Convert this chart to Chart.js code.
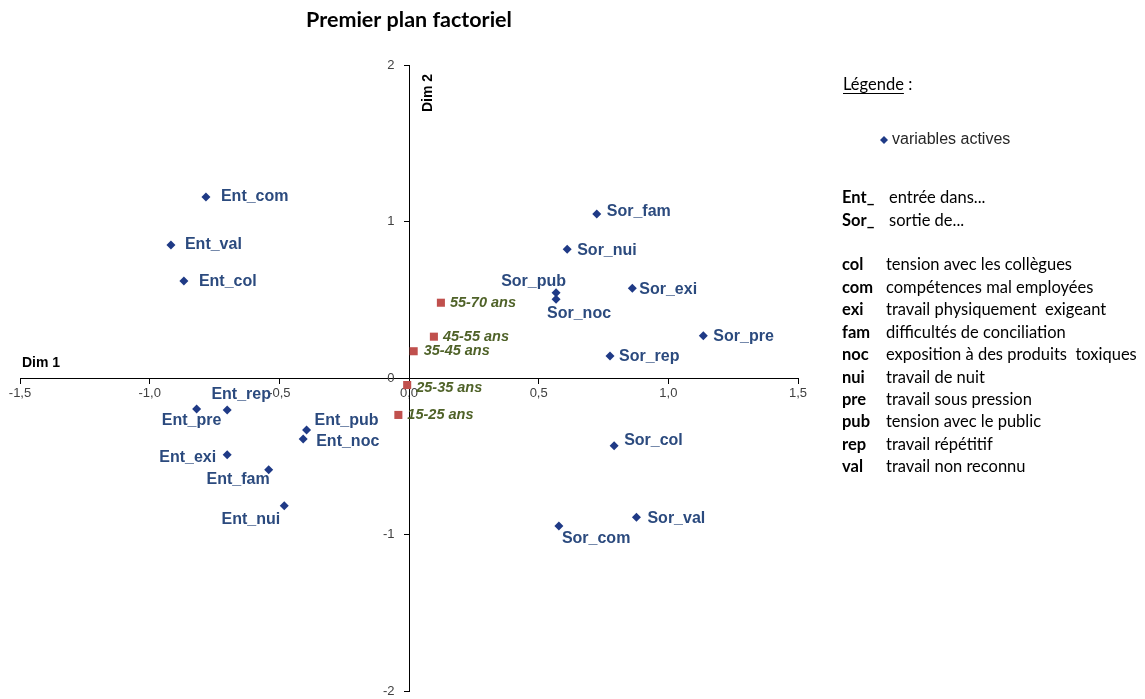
<!DOCTYPE html>
<html><head><meta charset="utf-8">
<script src="https://cdn.jsdelivr.net/npm/chart.js@4.4.1/dist/chart.umd.min.js"></script>
<style>html,body{margin:0;padding:0;background:#fff;overflow:hidden}#wrap{width:1145px;height:699px;position:relative}</style>
</head><body><div id="wrap"><canvas id="c"></canvas></div>
<script>
// ---- data ----
const variableNames = ['Ent_com','Ent_val','Ent_col','Ent_pre','Ent_rep','Ent_pub','Ent_noc','Ent_exi','Ent_fam','Ent_nui',
  'Sor_fam','Sor_nui','Sor_pub','Sor_noc','Sor_exi','Sor_pre','Sor_rep','Sor_col','Sor_val','Sor_com'];
const variableDim1 = [-0.783,-0.918,-0.868,-0.819,-0.701,-0.395,-0.408,-0.701,-0.541,-0.481,
  0.724,0.610,0.567,0.567,0.861,1.135,0.775,0.791,0.877,0.578];
const variableDim2 = [1.157,0.850,0.620,-0.198,-0.204,-0.332,-0.390,-0.490,-0.586,-0.816,
  1.048,0.822,0.545,0.503,0.573,0.270,0.141,-0.433,-0.890,-0.946];
const ageGroups = ['55-70 ans','45-55 ans','35-45 ans','25-35 ans','15-25 ans'];
const ageDim1 = [0.123,0.096,0.018,-0.007,-0.041];
const ageDim2 = [0.481,0.264,0.171,-0.045,-0.236];
const xTickLabels = ['-1,5','-1,0','-0,5','0,0','0,5','1,0','1,5'];
const yTickLabels = ['-2','-1','0','1','2'];
const prefixCodes = ['Ent_','Sor_'];
const prefixMeanings = ['entrée dans...','sortie de...'];
const themeCodes = ['col','com','exi','fam','noc','nui','pre','pub','rep','val'];
const themeMeanings = ['tension avec les collègues','compétences mal employées','travail physiquement  exigeant',
  'difficultés de conciliation','exposition à des produits  toxiques','travail de nuit','travail sous pression',
  'tension avec le public','travail répétitif','travail non reconnu'];

// ---- label placement (offset from marker, alignment) ----
const variableLabelPlacement = [
  [15,0,'left'],[14,0,'left'],[15,1,'left'],[-5,12,'center'],[14,-15,'center'],
  [8,-9,'left'],[13,3,'left'],[-11,3,'right'],[1,10,'right'],[-4,14,'right'],
  [10,-2,'left'],[10,1,'left'],[10,-11,'right'],[23,14,'center'],[7,1,'left'],
  [10,1,'left'],[9,1,'left'],[10,-5,'left'],[11,1,'left'],[3,13,'left']
];
const ageLabelPlacement = [[9,0,'left'],[9,0,'left'],[10,0,'left'],[9,3,'left'],[9,0,'left']];

const NAVY = '#1F3A86', LABEL_NAVY = '#2B4A7E', RED = '#C0504D', OLIVE = '#4F6228';

const pointLabels = {
  id: 'pointLabels',
  afterDatasetsDraw(chart) {
    const ctx = chart.ctx;
    ctx.save();
    ctx.textBaseline = 'middle';
    const m0 = chart.getDatasetMeta(0).data;
    ctx.font = 'bold 16px "Liberation Sans", Arial, sans-serif';
    ctx.fillStyle = LABEL_NAVY;
    m0.forEach((el, i) => {
      const p = variableLabelPlacement[i];
      ctx.textAlign = p[2];
      ctx.fillText(variableNames[i], el.x + p[0], el.y + p[1]);
    });
    const m1 = chart.getDatasetMeta(1).data;
    ctx.font = 'italic bold 14.5px "Liberation Sans", Arial, sans-serif';
    ctx.fillStyle = OLIVE;
    m1.forEach((el, i) => {
      const p = ageLabelPlacement[i];
      ctx.textAlign = p[2];
      ctx.fillText(ageGroups[i], el.x + p[0], el.y + p[1]);
    });
    // axis titles
    const xs = chart.scales.x, ys = chart.scales.y;
    ctx.fillStyle = '#000';
    ctx.font = 'bold 14px "Liberation Sans", Arial, sans-serif';
    ctx.textAlign = 'left';
    ctx.fillText('Dim 1', xs.left + 2, ys.getPixelForValue(0) - 15);
    ctx.save();
    ctx.translate(xs.getPixelForValue(0) + 19, ys.top + 28);
    ctx.rotate(-Math.PI / 2);
    ctx.textAlign = 'center';
    ctx.fillText('Dim 2', 0, 0);
    ctx.restore();
    ctx.restore();
  }
};

const sideLegend = {
  id: 'sideLegend',
  afterDraw(chart) {
    const ctx = chart.ctx;
    ctx.save();
    ctx.textBaseline = 'middle';
    ctx.textAlign = 'left';
    ctx.fillStyle = '#000';
    ctx.font = '16.5px Lato, "Open Sans", sans-serif';
    ctx.fillText('Légende', 843, 85);
    const w = ctx.measureText('Légende').width;
    ctx.fillText(' :', 843 + w, 85);
    ctx.fillRect(843, 93, w, 1);
    // marker
    ctx.fillStyle = NAVY;
    ctx.beginPath();
    ctx.moveTo(884, 136); ctx.lineTo(888, 140); ctx.lineTo(884, 144); ctx.lineTo(880, 140); ctx.closePath();
    ctx.fill();
    ctx.fillStyle = '#262626';
    ctx.font = '16px "Liberation Sans", Arial, sans-serif';
    ctx.fillText('variables actives', 892, 140);
    ctx.fillStyle = '#000';
    prefixCodes.forEach((c, i) => {
      const y = 198 + i * 22.6;
      ctx.font = 'bold 16.5px Lato, "Open Sans", sans-serif';
      ctx.fillText(c, 842, y);
      ctx.font = '16.5px Lato, "Open Sans", sans-serif';
      ctx.fillText(prefixMeanings[i], 889, y);
    });
    themeCodes.forEach((c, i) => {
      const y = 265 + i * 22.45;
      ctx.font = 'bold 16.5px Lato, "Open Sans", sans-serif';
      ctx.fillText(c, 842, y);
      ctx.font = '16.5px Lato, "Open Sans", sans-serif';
      ctx.fillText(themeMeanings[i], 886, y);
    });
    ctx.restore();
  }
};

function noSpace(s) {
  if (s.isHorizontal()) s.height = 0; else s.width = 0;
  s.paddingLeft = s.paddingRight = s.paddingTop = s.paddingBottom = 0;
}

new Chart(document.getElementById('c'), {
  type: 'scatter',
  data: {
    datasets: [
      {
        label: 'variables actives',
        data: variableDim1.map((x, i) => ({x, y: variableDim2[i]})),
        pointStyle: 'rectRot', pointRadius: 4.5, pointHoverRadius: 4.5,
        backgroundColor: NAVY, borderColor: NAVY, borderWidth: 0
      },
      {
        label: 'âge',
        data: ageDim1.map((x, i) => ({x, y: ageDim2[i]})),
        pointStyle: 'rect', pointRadius: 5.7, pointHoverRadius: 5.7,
        backgroundColor: RED, borderColor: RED, borderWidth: 0
      }
    ]
  },
  options: {
    responsive: true, maintainAspectRatio: false, animation: false,
    layout: { padding: { left: 20, top: 0, right: 347, bottom: 8 } },
    plugins: {
      legend: { display: false }, tooltip: { enabled: false },
      title: {
        display: true, fullSize: false, text: 'Premier plan factoriel', color: '#000',
        font: { family: 'Lato, "Open Sans", sans-serif', size: 21.5, weight: 'bold', lineHeight: 1.2 },
        padding: { top: 7, bottom: 32.2 }
      }
    },
    scales: {
      x: {
        type: 'linear', min: -1.5, max: 1.5, position: { y: 0 },
        afterFit: noSpace,
        afterBuildTicks: (s) => { s.ticks = xTickLabels.map((t, i) => ({ value: -1.5 + 0.5 * i })); },
        ticks: { callback: (v, i) => xTickLabels[i], color: '#404040', padding: 3, maxRotation: 0, autoSkip: false,
          font: { family: '"Liberation Sans", Arial, sans-serif', size: 13 } },
        grid: { display: true, drawOnChartArea: false, drawTicks: true, tickLength: 5, color: '#000', lineWidth: 1 },
        border: { display: true, color: '#000', width: 1 }
      },
      y: {
        type: 'linear', min: -2, max: 2, position: { x: 0 },
        afterFit: noSpace,
        afterBuildTicks: (s) => { s.ticks = yTickLabels.map((t, i) => ({ value: -2 + i })); },
        ticks: { callback: (v, i) => yTickLabels[i] + '    ', color: '#404040', autoSkip: false,
          font: { family: '"Liberation Sans", Arial, sans-serif', size: 13 } },
        grid: { display: true, drawOnChartArea: false, drawTicks: true, tickLength: 5, color: '#000', lineWidth: 1 },
        border: { display: true, color: '#000', width: 1 }
      }
    }
  },
  plugins: [pointLabels, sideLegend]
});
</script></body></html>
